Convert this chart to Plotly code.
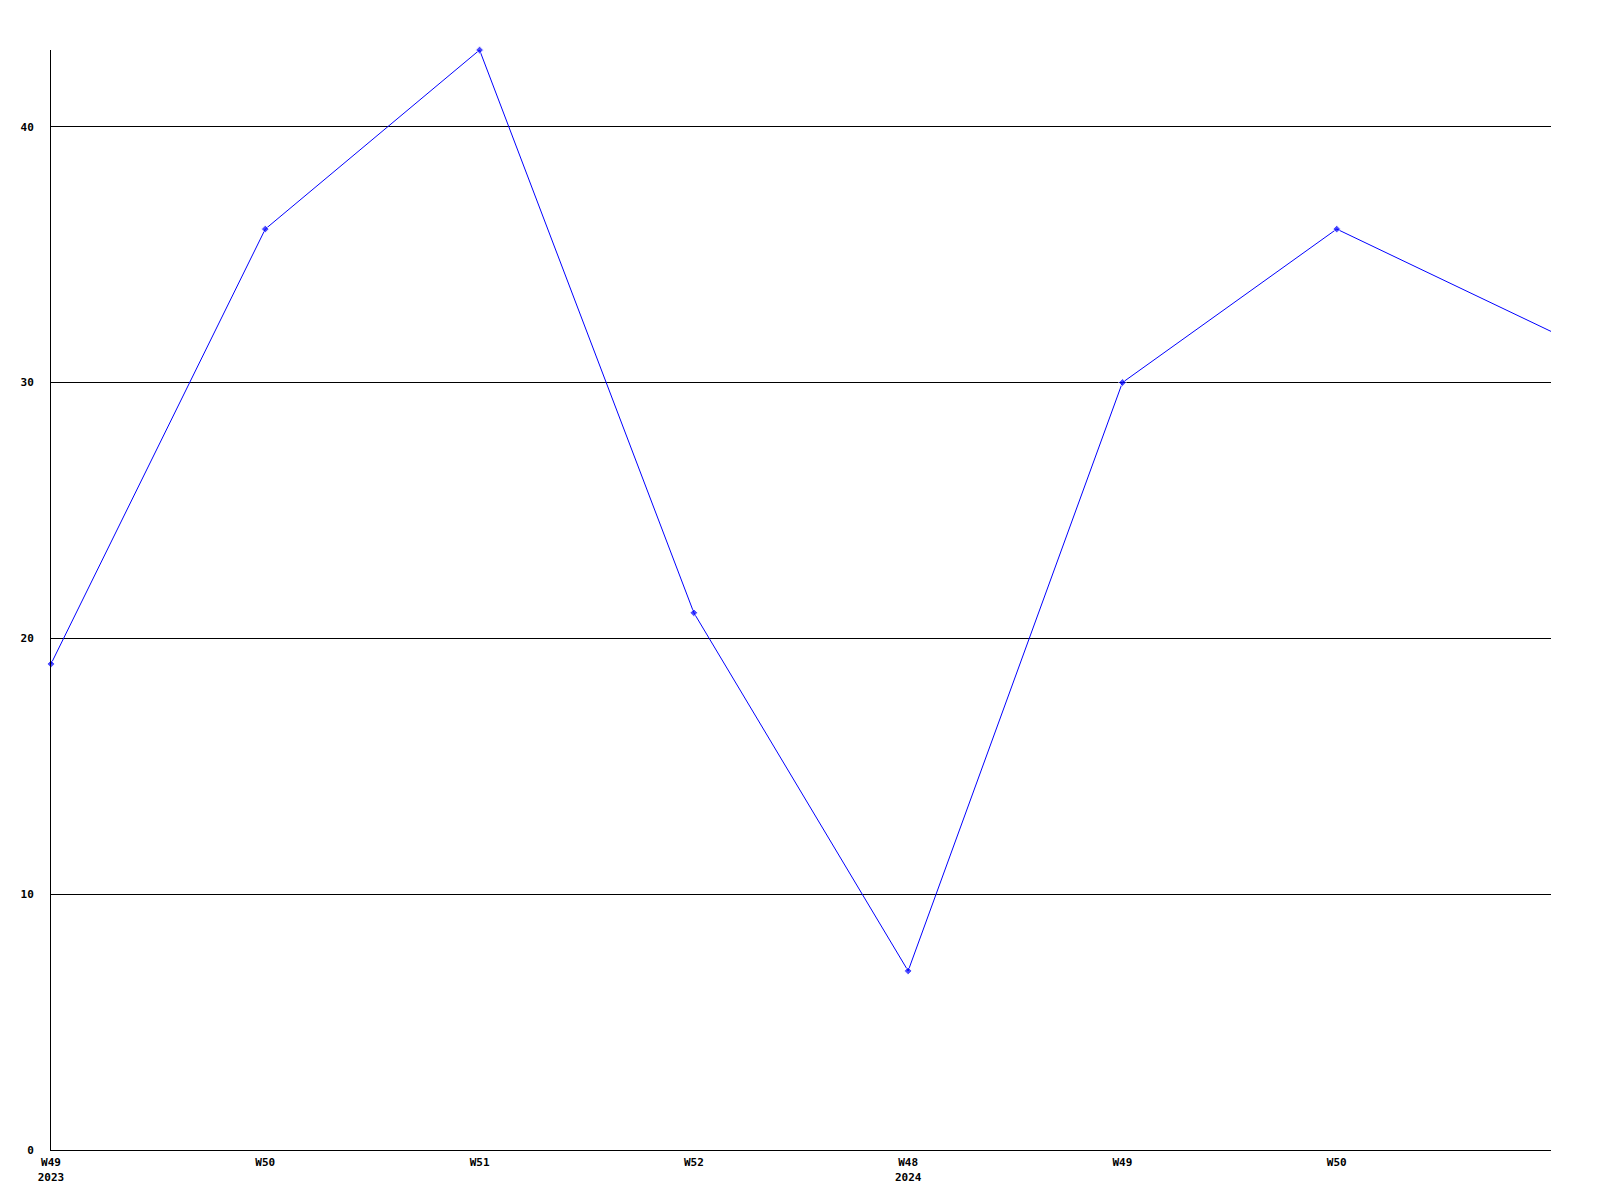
import plotly.graph_objects as go

weeks = ["W49", "W50", "W51", "W52", "W48", "W49", "W50", "W51"]
years = ["2023", "", "", "", "2024", "", "", ""]
values = [19, 36, 43, 21, 7, 30, 36, 32]
y_ticks = [0, 10, 20, 30, 40]

x_idx = list(range(len(values)))
tick_text = [w + ("<br>" + y if y else "") for w, y in zip(weeks, years)]
marker_sizes = [6] * (len(values) - 1) + [0]

font = dict(family="DejaVu Sans Mono", size=11, color="black", weight="bold")

fig = go.Figure()
fig.add_trace(go.Scatter(
    x=x_idx, y=values, mode="lines+markers",
    line=dict(color="#0000ff", width=1),
    marker=dict(symbol="diamond", size=marker_sizes, color="#0000ff"),
    cliponaxis=False,
))

fig.update_layout(
    width=1600, height=1200,
    margin=dict(l=43, r=57, t=42, b=58),
    paper_bgcolor="white", plot_bgcolor="white",
    showlegend=False,
    font=font,
)
fig.update_xaxes(
    range=[0, len(values) - 1],
    tickvals=x_idx[:-1], ticktext=tick_text[:-1],
    showgrid=False, zeroline=False,
    showline=True, linecolor="black", linewidth=1,
    ticks="", tickfont=font, tickangle=0, ticklabelstandoff=2,
)
fig.update_yaxes(
    range=[0, 43],
    tickvals=y_ticks, ticktext=[str(v) for v in y_ticks],
    showgrid=True, gridcolor="black", gridwidth=1,
    zeroline=False,
    showline=True, linecolor="black", linewidth=1,
    ticks="", tickfont=font, ticklabelstandoff=14,
)

fig.write_html("out.html")
